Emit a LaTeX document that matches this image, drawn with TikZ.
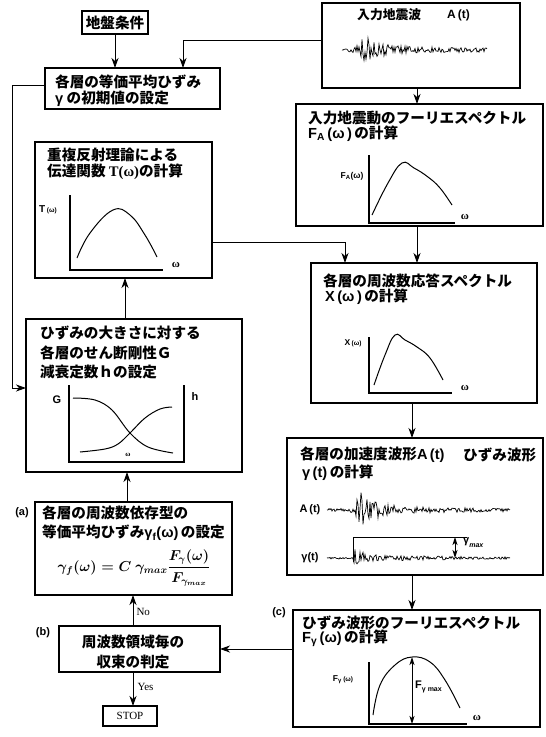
\documentclass[tikz,border=0pt]{standalone}
\usepackage{fontspec}
\setmainfont{Liberation Sans}
\newfontfamily\jp{Noto Sans CJK JP}
\newfontfamily\ls{Liberation Sans}
\newfontfamily\ser{Liberation Serif}
\usetikzlibrary{arrows.meta}
\tikzset{
 box/.style={draw, line width=1.1pt, inner sep=0pt, outer sep=0pt, anchor=north west},
 tbox/.style={draw, line width=2.8pt, inner sep=0pt, outer sep=0pt, anchor=north west},
 jt/.style={inner sep=0pt, anchor=west, font=\jp\bfseries\fontsize{14.6}{16}\selectfont},
 conn/.style={line width=1pt, -{Stealth[length=10pt,width=7pt,inset=3pt]}},
 dbl/.style={line width=0.9pt, {Stealth[length=8pt,width=5pt,inset=2pt]}-{Stealth[length=8pt,width=5pt,inset=2pt]}},
 ax/.style={line width=1.1pt},
 crv/.style={line width=1pt},
 wav/.style={line width=0.7pt},
 lab/.style={inner sep=0pt, font=\ls\bfseries\fontsize{10}{11}\selectfont},
 om/.style={inner sep=0pt, font=\ser\bfseries\fontsize{11}{12}\selectfont},
 tag/.style={inner sep=0pt, font=\ls\bfseries\fontsize{11}{12}\selectfont},
 fml/.style={inner sep=0pt, font=\fontsize{14.5}{16}\selectfont\boldmath},
}
\newcommand\jl[3]{\node[jt] (#1) at (#2) {#3};}
\begin{document}
\begin{tikzpicture}[x=1pt,y=-1pt]
\useasboundingbox (0,0) rectangle (546,737);
% ---------- boxes ----------
\node[box,minimum width=66pt,minimum height=23pt] (ground) at (82,11) {};
\node[box,minimum width=175pt,minimum height=41pt] (init) at (45,68) {};
\node[box,minimum width=198pt,minimum height=85pt] (input) at (322,3) {};
\node[box,minimum width=247pt,minimum height=122pt] (FA) at (296,104) {};
\node[box,minimum width=177pt,minimum height=136pt] (T) at (35,142) {};
\node[box,minimum width=226pt,minimum height=140pt] (X) at (311,263) {};
\node[box,minimum width=216pt,minimum height=153pt] (G) at (26,319) {};
\node[box,minimum width=256pt,minimum height=137pt] (acc) at (287,438) {};
\node[tbox,minimum width=197pt,minimum height=93pt] (a) at (35,502) {};
\node[tbox,minimum width=247pt,minimum height=117pt] (c) at (293,610) {};
\node[tbox,minimum width=161pt,minimum height=46pt] (b) at (59,626) {};
\node[box,minimum width=54pt,minimum height=20pt] (stop) at (103,706) {};
% ---------- texts ----------
\node[jt,anchor=center] (groundt) at (ground.center) {地盤条件};
\jl{init1}{55,82}{各層の等価平均ひずみ}
\jl{init2}{55,99}{{\ls γ} の初期値の設定}
\node[jt,font=\jp\bfseries\fontsize{12.8}{14}\selectfont] (inputt) at (357,15) {入力地震波};
\node[jt,font=\ls\bfseries\fontsize{12}{14}\selectfont] (inputa) at (447,15) {A\,(t)};
\jl{FA1}{308,118}{入力地震動のフーリエスペクトル}
\jl{FA2}{308,134}{{\ls F\textsubscript{A}\,(ω\,)\,}の計算}
\jl{T1}{47,155}{重複反射理論による}
\jl{T2}{47,172}{伝達関数 {\ser T(ω)}の計算}
\jl{X1}{323,281}{各層の周波数応答スペクトル}
\jl{X2}{325,297}{{\ls X\,(ω\,)\,}の計算}
\jl{G1}{40,333}{ひずみの大きさに対する}
\jl{G2}{40,353}{各層のせん断剛性Ｇ}
\jl{G3}{40,372}{減衰定数ｈの設定}
\jl{acc1}{300,455}{各層の加速度波形{\ls A\,(t)}}
\jl{acc1b}{463,455}{ひずみ波形}
\jl{acc2}{302,473}{{\ls γ\,(t)\,}の計算}
\jl{a1}{42,513}{各層の周波数依存型の}
\jl{a2}{42,533}{等価平均ひずみ{\ls γ\textsubscript{f}(ω)\,}の設定}
\node[fml] (form) at (134,568) {$\displaystyle \gamma_f(\omega) = C\ \gamma_{max}\frac{F_\gamma(\omega)}{F_{\gamma_{max}}}$};
\node[jt,anchor=center] (b1) at (133,642) {周波数領域毎の};
\node[jt,anchor=center] (b2) at (133,662) {収束の判定};
\jl{c1}{302,623}{ひずみ波形のフーリエスペクトル}
\jl{c2}{302,638}{{\ls F\textsubscript{γ}\,(ω)\,}の計算}
\node[inner sep=0pt,font=\ser\fontsize{11}{12}\selectfont] (stopt) at (stop.center) {STOP};
\node[tag] (taga) at (22,513) {(a)};
\node[tag] (tagb) at (43,633) {(b)};
\node[tag] (tagc) at (279,613) {(c)};
% ---------- connectors ----------
\draw[conn] (ground.south) -- (ground.south |- init.north);
\draw[conn] ([yshift=5.5pt]input.west) -| ([xshift=50.5pt]init.north);
\draw[conn] ([yshift=3.5pt]init.west) -| ([xshift=-14pt,yshift=7.5pt]G.west) -- ([yshift=7.5pt]G.west);
\draw[conn] ([xshift=-4pt]input.south) -- ([xshift=-4pt]input.south |- FA.north);
\draw[conn] ([xshift=-2.5pt]FA.south) -- ([xshift=-2.5pt]FA.south |- X.north);
\draw[conn] ([yshift=-32pt]T.east) -| ([xshift=-79pt]X.north);
\draw[conn] ([xshift=-12pt]X.south) -- ([xshift=-12pt]X.south |- acc.north);
\draw[conn] ([xshift=-3pt]acc.south) -- ([xshift=-3pt]acc.south |- c.north);
\draw[conn] ([xshift=-9pt]G.north) -- ([xshift=-9pt]G.north |- T.south);
\draw[conn] ([xshift=-6.5pt]a.north) -- ([xshift=-6.5pt]a.north |- G.south);
\draw[conn] ([xshift=-6.5pt]b.north) -- ([xshift=-6.5pt]b.north |- a.south) node[pos=0.45,right=3pt,inner sep=0pt,font=\ser\fontsize{11}{12}\selectfont] (no) {No};
\draw[conn] ([xshift=-6.5pt]b.south) -- ([xshift=-6.5pt]b.south |- stop.north) node[pos=0.45,right=4pt,inner sep=0pt,font=\ser\fontsize{11}{12}\selectfont] (yes) {Yes};
\draw[conn] (c.west |- b.east) -- (b.east);
% ---------- input wave ----------
\pgfmathsetseed{11}
\draw[wav] (342,50) \foreach \i in {1,...,145} { -- ({342+\i},{50+(1.8+15*exp(-max(22-\i,0)/4)*exp(-max(\i-22,0)/12)+3*exp(-max(22-\i,0)/4)*exp(-max(\i-22,0)/60))*rand}) };
% ---------- T graph ----------
\draw[ax] (70,195) -- (70,270) -- (163,270);
\draw[crv] plot[smooth,tension=0.7] coordinates {(77,258) (90,233) (113,210) (130,215) (145,235) (157,257)};
\node[lab] (Tl) at (48,210) {T\,{\fontsize{6.5}{7}\selectfont(ω)}};
\node[om] (Tom) at (176,265) {ω};
% ---------- FA graph ----------
\draw[ax] (369,155) -- (369,223) -- (455,223);
\draw[crv] plot[smooth,tension=0.7] coordinates {(372,215) (388,183) (402,163) (414,168) (428,177) (440,188) (452,205)};
\node[lab,font=\ls\bfseries\fontsize{8.5}{9}\selectfont] (FAl) at (352,176) {F\textsubscript{A}(ω)};
\node[om] (FAom) at (465,217) {ω};
% ---------- X graph ----------
\draw[ax] (369,337) -- (369,393) -- (452,393);
\draw[crv] plot[smooth,tension=0.7] coordinates {(374,385) (385,355) (395,335) (405,340) (417,347) (430,358) (443,380)};
\node[lab,font=\ls\bfseries\fontsize{8.5}{9}\selectfont] (Xl) at (353,343) {X\,{\fontsize{6.5}{7}\selectfont(ω)}};
\node[om] (Xom) at (465,388) {ω};
% ---------- G h graph ----------
\draw[ax] (69,385) -- (69,462) -- (184,462) -- (184,385);
\draw[crv] plot[smooth,tension=0.6] coordinates {(73,398) (95,400) (112,410) (130,433) (148,447) (173,453)};
\draw[crv] plot[smooth,tension=0.6] coordinates {(80,452) (105,449) (118,444) (130,433) (145,418) (160,409) (172,407)};
\node[lab,font=\ls\bfseries\fontsize{11}{12}\selectfont] (Gl) at (57,400) {G};
\node[lab,font=\ls\bfseries\fontsize{11}{12}\selectfont] (hl) at (195,397) {h};
\node[om,font=\ser\bfseries\fontsize{7}{8}\selectfont] (Gom) at (128,455) {ω};
% ---------- acceleration / strain waves ----------
\node[lab,font=\ls\bfseries\fontsize{11}{12}\selectfont] (Atl) at (310,510) {A\,(t)};
\pgfmathsetseed{5}
\draw[wav] (327,510) \foreach \i in {1,...,183} { -- ({327+\i},{510+(1.5+14*exp(-max(32-\i,0)/3)*exp(-max(\i-32,0)/14)+4*exp(-max(32-\i,0)/3)*exp(-max(\i-32,0)/60))*rand}) };
\node[lab,font=\ls\bfseries\fontsize{11}{12}\selectfont] (gtl) at (310,558) {γ(t)};
\pgfmathsetseed{9}
\draw[wav] (327,558) \foreach \i in {1,...,183} { -- ({327+\i},{558+(1+(\i>=27)*(11*exp(-max(\i-27,0)/6)+3.5*exp(-max(\i-27,0)/60)))*rand}) };
\draw[line width=0.8pt] (353,562) -- (353,537) -- (467,537);
\draw[dbl] (455,537) -- (455,558);
\node[inner sep=0pt,anchor=west,font=\ls\bfseries\fontsize{11}{12}\selectfont] (gml) at (463,543) {γ\raisebox{-4pt}{\fontsize{7}{8}\selectfont\itshape max}};
% ---------- F gamma graph ----------
\draw[ax] (369,662) -- (369,724) -- (467,724);
\draw[crv] plot[smooth,tension=0.7] coordinates {(373,715) (380,685) (395,665) (412,657) (430,662) (445,680) (460,708)};
\draw[dbl] (412,657) -- (412,724);
\node[lab,font=\ls\bfseries\fontsize{8.5}{9}\selectfont] (Fgl) at (343,680) {F\textsubscript{γ}\,{\fontsize{6.5}{7}\selectfont(ω)}};
\node[inner sep=0pt,anchor=west,font=\ls\bfseries\fontsize{11}{12}\selectfont] (Fgm) at (415,687) {F\raisebox{-3pt}{\fontsize{7}{8}\selectfont γ max}};
\node[om] (Fom) at (477,718) {ω};
\end{tikzpicture}
\end{document}
